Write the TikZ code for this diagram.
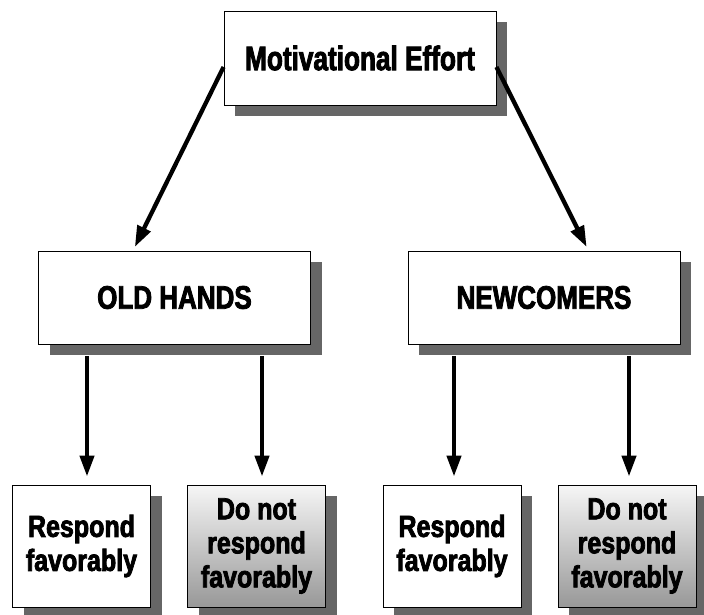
\documentclass[tikz,border=0pt]{standalone}
\usepackage{fontspec}
\newfontfamily\condA{Liberation Sans}[FakeStretch=0.77, FakeBold=2.5]
\newfontfamily\condM{Liberation Sans}[FakeStretch=0.8, FakeBold=2.5]
\newfontfamily\condB{Liberation Sans}[FakeStretch=0.82, FakeBold=2.5]
\usetikzlibrary{arrows.meta,shadows,calc}
\definecolor{shadowgray}{RGB}{102,102,102}
\definecolor{gradbot}{RGB}{152,152,152}
\definecolor{gradtop}{RGB}{246,246,246}
\tikzset{
  box/.style={draw=black, line width=0.9pt, fill=white, align=center,
    drop shadow={shadow xshift=11pt, shadow yshift=-11pt, fill=shadowgray, opacity=1}},
  bigbox/.style={box, minimum width=272pt, minimum height=93pt, font=\condM\bfseries\fontsize{32.5}{36}\selectfont},
  smallbox/.style={box, minimum width=138pt, minimum height=122pt, inner sep=0pt, font=\condB\bfseries\fontsize{30.5}{34}\selectfont},
  shadedbox/.style={smallbox, top color=gradtop, bottom color=gradbot},
  arr/.style={line width=4.3pt, -{Triangle[length=21pt,width=14pt]}},
}
\begin{document}
\begin{tikzpicture}[x=1pt,y=-1pt]
\useasboundingbox (0,0) rectangle (704,615);
\node[bigbox, minimum height=94pt, font=\condA\bfseries\fontsize{34}{36}\selectfont] (top) at (360,58) {Motivational Effort};
\node[bigbox] (old) at (174.5,297.5) {OLD HANDS};
\node[bigbox] (new) at (544,297.5) {NEWCOMERS};
\node[smallbox] (b1) at (81.5,546) {Respond\\favorably};
\node[shadedbox] (b2) at (256.5,546) {Do not\\respond\\favorably};
\node[smallbox] (b3) at (452,546) {Respond\\favorably};
\node[shadedbox] (b4) at (627,546) {Do not\\respond\\favorably};
\coordinate (x1) at (87,0);
\coordinate (x2) at (262,0);
\coordinate (x3) at (454,0);
\coordinate (x4) at (629,0);
\draw[arr, shorten >=4pt] ([yshift=-9pt]top.west) -- ($(old.north west)+(95,0)$);
\draw[arr, shorten >=4pt] ([yshift=-9pt]top.east) -- ($(new.north east)+(-92,0)$);
\draw[arr, shorten >=8pt] ([yshift=-11.5pt]old.south -| x1) -- (b1.north -| x1);
\draw[arr, shorten >=8pt] ([yshift=-11.5pt]old.south -| x2) -- (b2.north -| x2);
\draw[arr, shorten >=8pt] ([yshift=-11.5pt]new.south -| x3) -- (b3.north -| x3);
\draw[arr, shorten >=8pt] ([yshift=-11.5pt]new.south -| x4) -- (b4.north -| x4);
\end{tikzpicture}
\end{document}
